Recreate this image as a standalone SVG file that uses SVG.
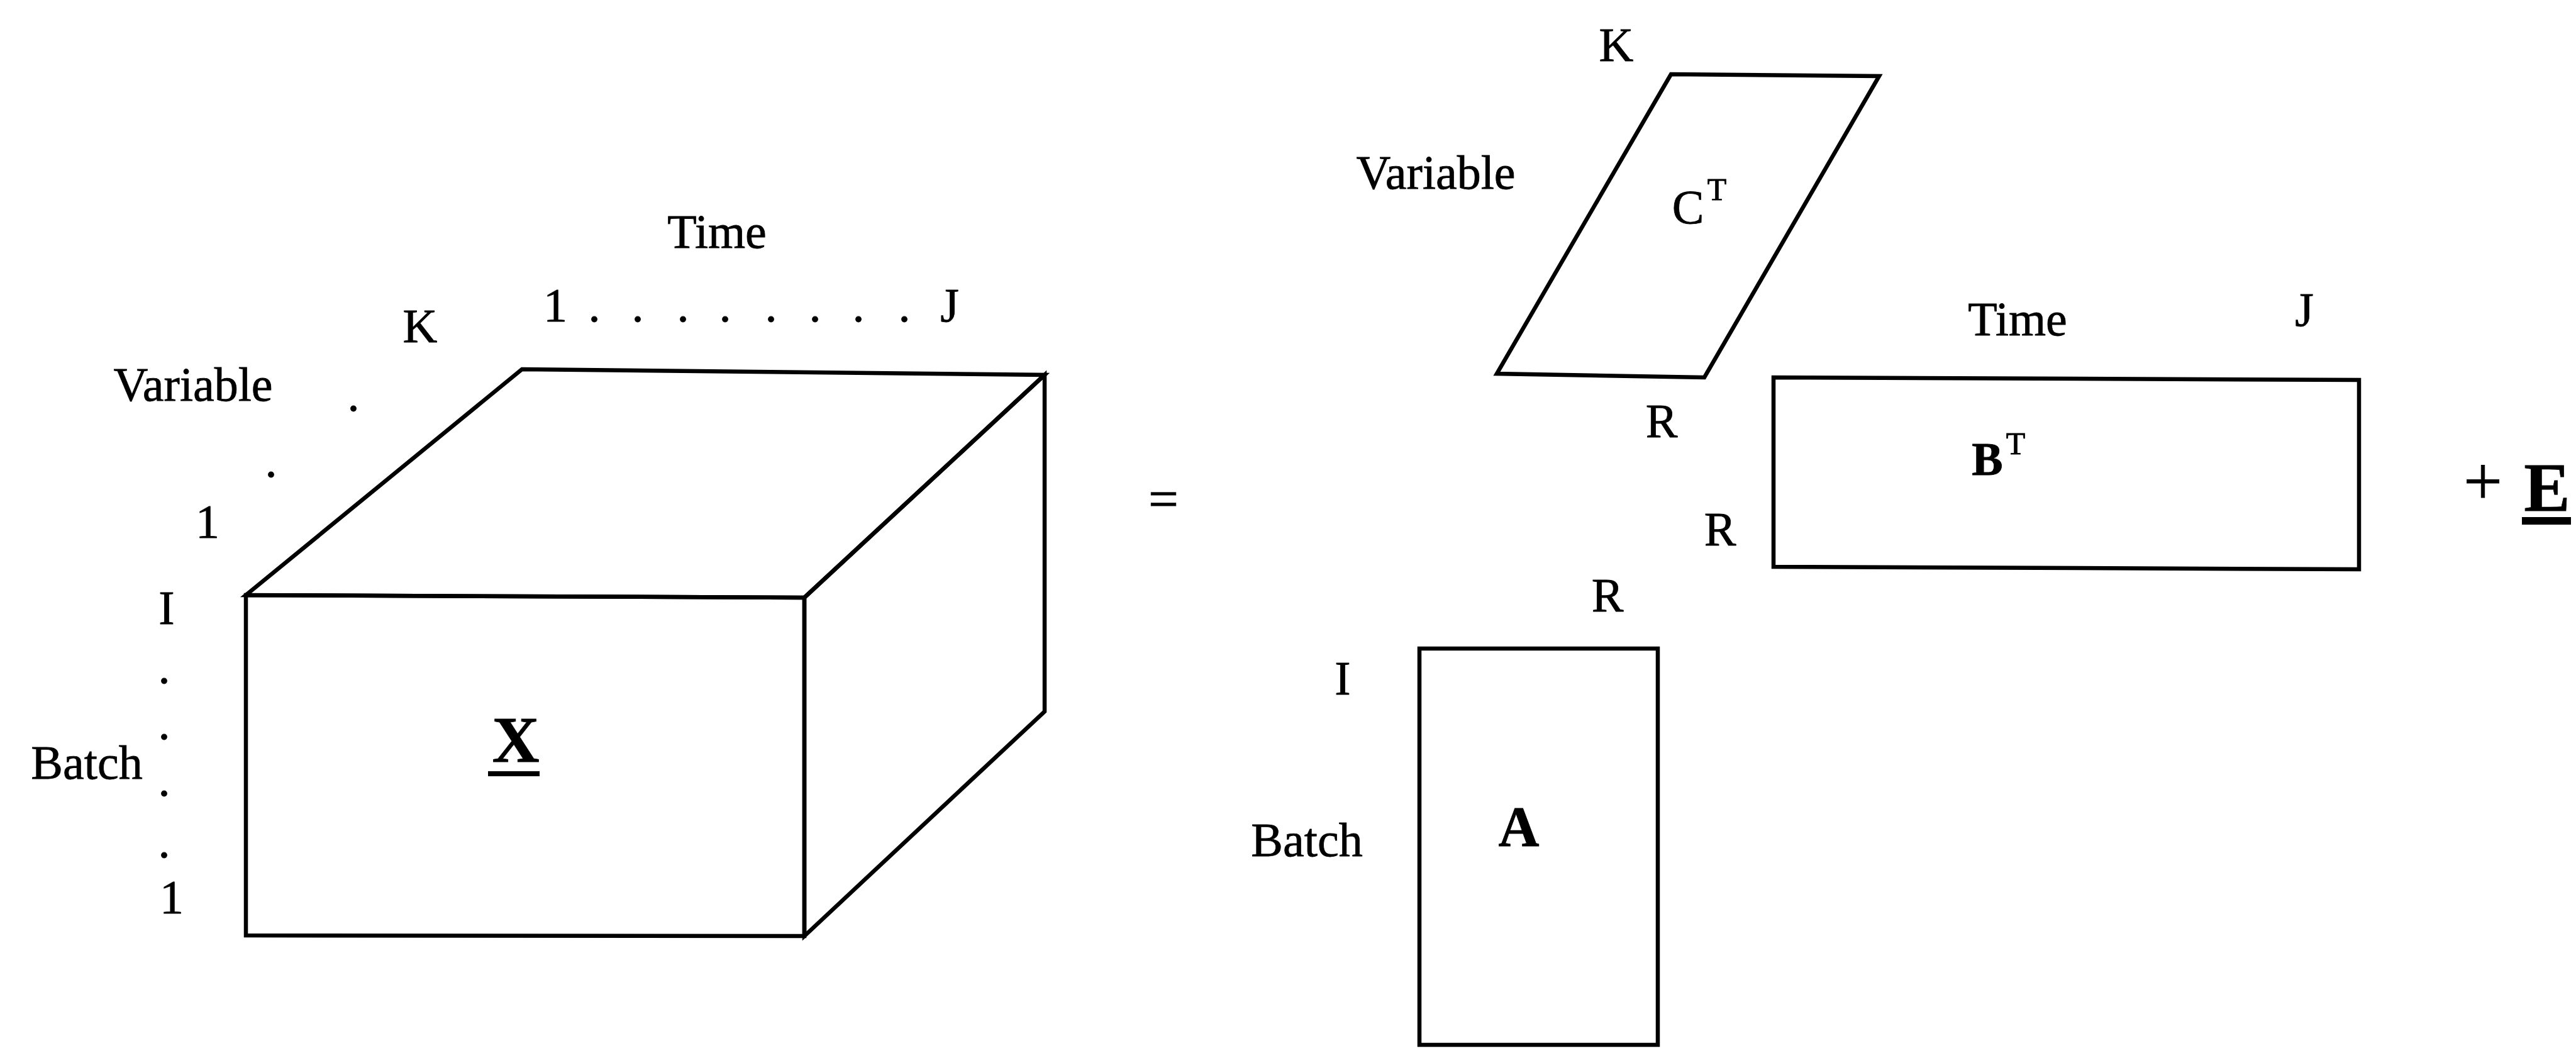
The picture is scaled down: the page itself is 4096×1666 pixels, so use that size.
<svg xmlns="http://www.w3.org/2000/svg" width="4096" height="1666" viewBox="0 0 4096 1666">
<style>
.ln{fill:none;stroke:#000;stroke-width:6.5;stroke-linejoin:miter}
.t{font-family:"Liberation Serif","Times New Roman",serif;font-size:76px;fill:#000;stroke:#000;stroke-width:0.8;text-anchor:middle}
.b{font-weight:bold}
.sup{font-size:50px}
</style>
<rect width="4096" height="1666" fill="#fff"/>
<g id="cube-X">
<polygon class="ln" points="391,946 1279,950 1279,1488 391,1487"/>
<polygon class="ln" points="391,946 830,587 1661,596 1279,950"/>
<polygon class="ln" points="1279,950 1661,596 1661,1131 1279,1488"/>
<text class="t b" x="820" y="1211" style="font-size:104px">X</text>
<rect x="776" y="1226" width="82" height="8" fill="#000"/>
</g>
<g id="cube-labels">
<text class="t" x="1140" y="394">Time</text>
<text class="t" x="668" y="544">K</text>
<text class="t" x="883 945 1014 1086 1153 1226 1296 1365 1438 1510" y="511">1........J</text>
<text class="t" x="307" y="637">Variable</text>
<text class="t" x="562" y="653">.</text>
<text class="t" x="431" y="758">.</text>
<text class="t" x="330" y="855">1</text>
<text class="t" x="265" y="992">I</text>
<text class="t" x="261" y="1086">.</text>
<text class="t" x="261" y="1175">.</text>
<text class="t" x="261" y="1265">.</text>
<text class="t" x="261" y="1363">.</text>
<text class="t" x="138" y="1238">Batch</text>
<text class="t" x="273" y="1452">1</text>
</g>
<g id="equals">
<text class="t" x="1850" y="822" style="font-size:85px">=</text>
</g>
<g id="CT">
<polygon class="ln" points="2657,118 2988,121 2710,600 2380,594"/>
<text class="t" x="2684" y="355">C</text>
<text class="t sup" x="2730" y="318">T</text>
<text class="t" x="2570" y="97">K</text>
<text class="t" x="2283" y="300">Variable</text>
<text class="t" x="2642" y="695">R</text>
</g>
<g id="BT">
<polygon class="ln" points="2820,600 3751,604 3751,905 2820,901"/>
<text class="t b" x="3160" y="755" style="font-size:74px">B</text>
<text class="t sup" x="3205" y="722">T</text>
<text class="t" x="3208" y="533">Time</text>
<text class="t" x="3664" y="518">J</text>
<text class="t" x="2735" y="867">R</text>
</g>
<g id="A">
<polygon class="ln" points="2257,1031 2636,1031 2636,1661 2257,1661"/>
<text class="t b" x="2415" y="1345" style="font-size:90px">A</text>
<text class="t" x="2556" y="972">R</text>
<text class="t" x="2135" y="1104">I</text>
<text class="t" x="2078" y="1361">Batch</text>
</g>
<g id="plus-E">
<text class="t" x="3948" y="802" style="font-size:110px">+</text>
<text class="t b" x="4050" y="812" style="font-size:110px">E</text>
<rect x="4010" y="822" width="78" height="12" fill="#000"/>
</g>
</svg>
